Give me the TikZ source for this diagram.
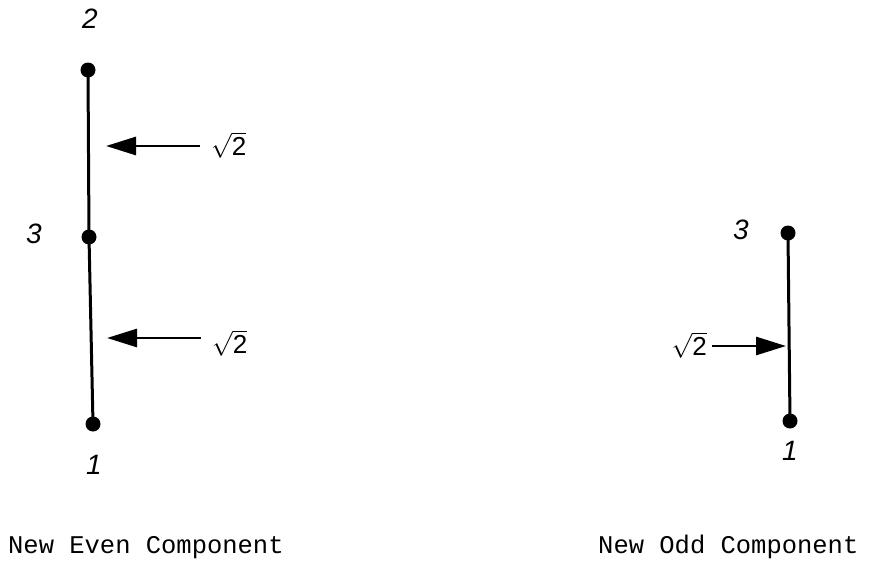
\documentclass[tikz,border=0pt]{standalone}
\usepackage{fontspec}
\setmainfont{Liberation Sans}
\newfontfamily\monofam{Liberation Mono}
\usetikzlibrary{arrows.meta}
\begin{document}
\begin{tikzpicture}[x=1pt,y=-1pt,
  vdot/.style={circle,fill=black,inner sep=0pt,minimum size=15pt},
  edge/.style={line width=3pt},
  lbl/.style={font=\fontsize{28}{28}\selectfont\itshape,inner sep=0pt},
  wt/.style={font=\fontsize{26}{26}\selectfont,inner sep=0pt},
  captext/.style={font=\fontsize{25.5}{25.5}\selectfont\monofam,inner sep=0pt,anchor=west},
  harrow/.style={line width=2.8pt,-{Triangle[length=30pt,width=18pt]}}]
\useasboundingbox (0,0) rectangle (879,565);
% left component
\node[vdot] (L2) at (88,70) {};
\node[vdot] (L3) at (89,237) {};
\node[vdot] (L1) at (93,424) {};
\draw[edge] (L2.center) -- (L3.center) -- (L1.center);
\node[lbl] (t2) at (90,19) {2};
\node[lbl] (t3) at (34,234) {3};
\node[lbl] (t1) at (94,465) {1};
\coordinate (a1s) at (200,146);
\coordinate (a1e) at (106,146);
\draw[harrow] (a1s) -- (a1e);
\node[wt,anchor=west] (w1) at (211,145) {$\sqrt{\mbox{2}}$};
\coordinate (a2s) at (201,338);
\coordinate (a2e) at (107,338);
\draw[harrow] (a2s) -- (a2e);
\node[wt,anchor=west] (w2) at (212,343) {$\sqrt{\mbox{2}}$};
% right component
\node[vdot] (R3) at (788,233) {};
\node[vdot] (R1) at (790,421) {};
\draw[edge] (R3.center) -- (R1.center);
\node[lbl] (r3) at (741,230) {3};
\node[lbl] (r1) at (790,451) {1};
\coordinate (a3s) at (712,346);
\coordinate (a3e) at (786,346);
\draw[harrow] (a3s) -- (a3e);
\node[wt,anchor=east] (w3) at (707,345) {$\sqrt{\mbox{2}}$};
% captions
\node[captext] (c1) at (8,548) {New Even Component};
\node[captext] (c2) at (598,547) {New Odd Component};
\end{tikzpicture}
\end{document}
